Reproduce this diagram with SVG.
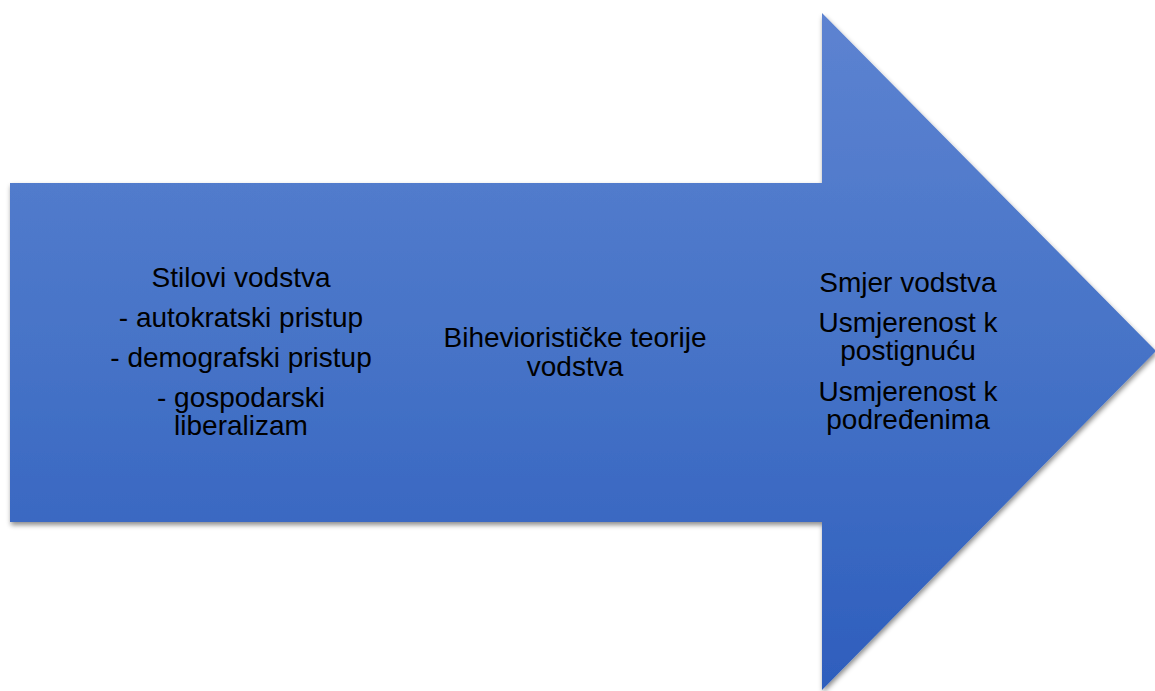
<svg xmlns="http://www.w3.org/2000/svg" width="1155" height="691" viewBox="0 0 1155 691">
<defs>
<linearGradient id="g" x1="0" y1="13" x2="0" y2="690" gradientUnits="userSpaceOnUse">
<stop offset="0" stop-color="#5d83d1"/>
<stop offset="0.5" stop-color="#4673c7"/>
<stop offset="1" stop-color="#2e5ebd"/>
</linearGradient>
<filter id="sh" x="-5%" y="-5%" width="110%" height="110%">
<feDropShadow dx="1" dy="3" stdDeviation="2.5" flood-color="#000" flood-opacity="0.45"/>
</filter>
</defs>
<style>
text{font-family:"Liberation Sans",Arial,sans-serif;font-size:28px;fill:#000;text-anchor:middle}
</style>
<rect width="1155" height="691" fill="#fff"/>
<g id="arrow">
<path d="M10,183 L822,183 L822,13 L1156,351 L822,690 L822,522 L10,522 Z" fill="url(#g)" filter="url(#sh)"/>
</g>
<g id="left">
<text x="241" y="287">Stilovi vodstva</text>
<text x="241" y="327">- autokratski pristup</text>
<text x="241" y="367">- demografski pristup</text>
<text x="241" y="407">- gospodarski</text>
<text x="241" y="435">liberalizam</text>
</g>
<g id="middle">
<text x="575" y="347">Biheviorističke teorije</text>
<text x="575" y="376">vodstva</text>
</g>
<g id="right">
<text x="908" y="292">Smjer vodstva</text>
<text x="908" y="332">Usmjerenost k</text>
<text x="908" y="360">postignuću</text>
<text x="908" y="401">Usmjerenost k</text>
<text x="908" y="429">podređenima</text>
</g>
<g id="connectors"/>
</svg>
